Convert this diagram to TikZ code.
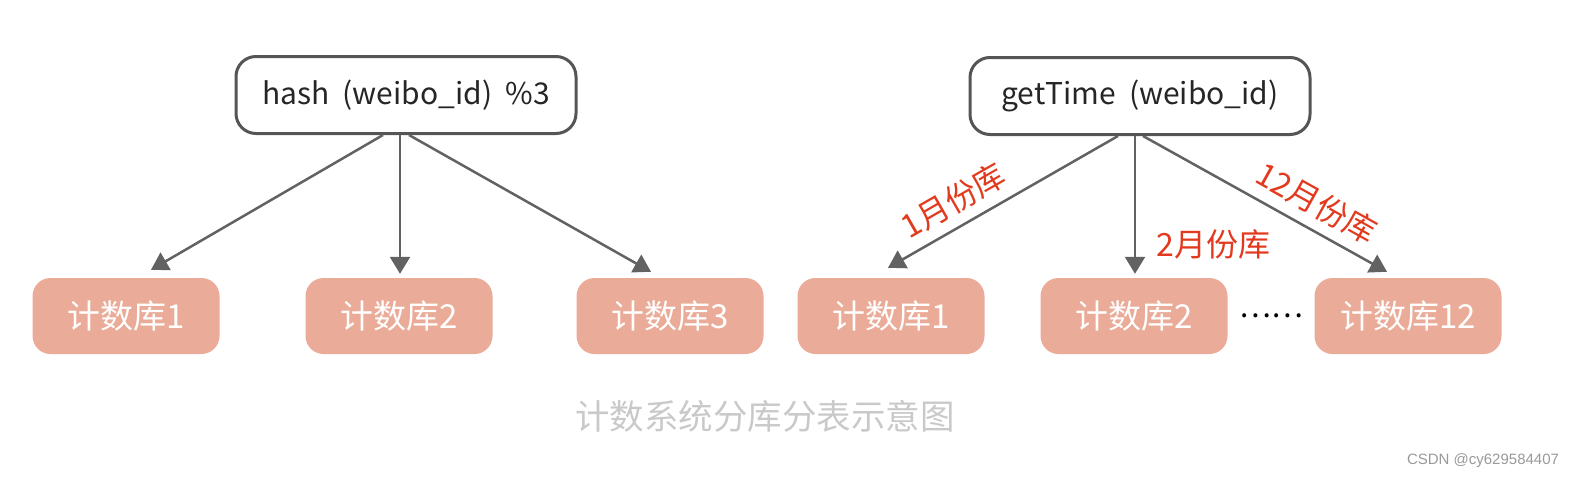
\documentclass[tikz,border=0pt]{standalone}
\usepackage{fontspec}
\newfontfamily\cjk{Noto Sans CJK SC}
\newfontfamily\wmfont{Liberation Sans}
\usetikzlibrary{arrows.meta}
\definecolor{dbfill}{HTML}{EAAB98}
\definecolor{edgegray}{HTML}{626262}
\definecolor{boxline}{HTML}{555555}
\definecolor{month}{HTML}{E23A1E}
\definecolor{capgray}{HTML}{C9C9C9}

\begin{document}
\begin{tikzpicture}[x=1pt, y=-1pt,
  fn/.style={draw=boxline, line width=3pt, rounded corners=20pt, fill=white, minimum width=340pt, minimum height=77pt, font=\cjk\fontsize{30}{34}\selectfont, text=black!85},
  db/.style={fill=dbfill, rounded corners=18pt, minimum width=187pt, minimum height=76pt, text=white, font=\cjk\fontsize{33}{36}\selectfont},
  arr/.style={edgegray, line width=2.5pt, -{Triangle[length=17pt,width=20pt]}},
  mon/.style={text=month, font=\cjk\fontsize{32}{34}\selectfont, inner sep=2pt}]
\useasboundingbox (0,0) rectangle (1582,482);
% functions
\node[fn] (hash) at (406,95) {hash\ \ (weibo\_id)\ \ \%3};
\node[fn] (gettime) at (1140,96) {getTime\ \ (weibo\_id)};
% databases
\node[db] (a1) at (126,316) {计数库1};
\node[db] (a2) at (399,316) {计数库2};
\node[db] (a3) at (670,316) {计数库3};
\node[db] (b1) at (891,316) {计数库1};
\node[db] (b2) at (1134,316) {计数库2};
\node[db] (b12) at (1408,316) {计数库12};
\node[font=\cjk\fontsize{30}{30}\selectfont] (dots) at (1271,316) {……};
% hash
\draw[arr] ([xshift=-23pt]hash.south) -- ([xshift=25pt,yshift=8pt]a1.north);
\draw[arr] ([xshift=-6pt]hash.south) -- ([xshift=1pt,yshift=4pt]a2.north);
\draw[arr] ([xshift=3pt]hash.south) -- ([xshift=-19pt,yshift=6pt]a3.north);
% by month
\draw[arr] ([xshift=-22pt]gettime.south) -- ([xshift=-3pt,yshift=10pt]b1.north)
  node[mon, pos=0.66, sloped, above=8pt] (l1) {1月份库};
\draw[arr] ([xshift=-5pt]gettime.south) -- ([xshift=1pt,yshift=4pt]b2.north)
  node[mon, pos=0.79, right=18pt] (l2) {2月份库};
\draw[arr] ([xshift=3pt]gettime.south) -- ([xshift=-21pt,yshift=6pt]b12.north)
  node[mon, pos=0.66, sloped, above=8pt] (l12) {12月份库};
% caption
\node[text=capgray, font=\cjk\fontsize{34.5}{38}\selectfont] (cap) at (765,416) {计数系统分库分表示意图};
\node[text=gray!80, font=\wmfont\fontsize{15}{18}\selectfont] (wm) at (1483,461) {CSDN @cy629584407};
\end{tikzpicture}
\end{document}
